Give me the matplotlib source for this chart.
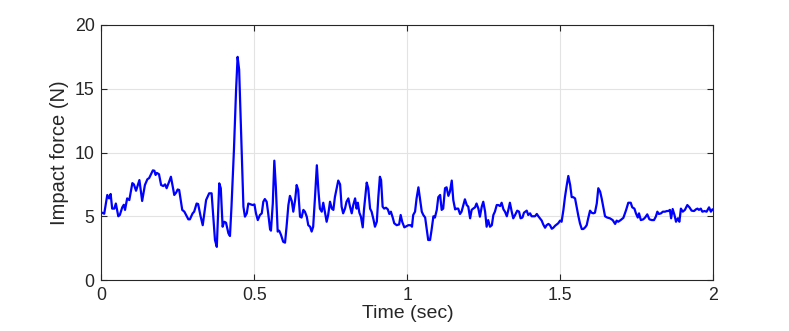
import matplotlib.pyplot as plt

# impact force signal
time_s = [0.000, 0.009, 0.019, 0.025, 0.030, 0.035, 0.042, 0.047, 0.055, 0.060,
          0.068, 0.073, 0.077, 0.084, 0.091, 0.101, 0.106, 0.113, 0.124, 0.133,
          0.142, 0.150, 0.156, 0.162, 0.168, 0.173, 0.177, 0.181, 0.188, 0.195,
          0.202, 0.208, 0.213, 0.221, 0.227, 0.238, 0.244, 0.249, 0.254, 0.264,
          0.271, 0.284, 0.289, 0.298, 0.303, 0.311, 0.316, 0.324, 0.331, 0.342,
          0.352, 0.360, 0.371, 0.377, 0.385, 0.390, 0.396, 0.401, 0.407, 0.415,
          0.420, 0.425, 0.433, 0.440, 0.445, 0.450, 0.458, 0.464, 0.469, 0.475,
          0.480, 0.485, 0.494, 0.500, 0.505, 0.511, 0.518, 0.524, 0.529, 0.534,
          0.540, 0.545, 0.551, 0.554, 0.560, 0.565, 0.570, 0.576, 0.581, 0.587,
          0.594, 0.600, 0.605, 0.611, 0.616, 0.622, 0.627, 0.633, 0.638, 0.643,
          0.649, 0.654, 0.660, 0.665, 0.671, 0.676, 0.682, 0.687, 0.692, 0.698,
          0.704, 0.709, 0.714, 0.720, 0.725, 0.731, 0.736, 0.741, 0.747, 0.753,
          0.758, 0.763, 0.769, 0.774, 0.780, 0.785, 0.790, 0.796, 0.801, 0.807,
          0.812, 0.818, 0.823, 0.829, 0.834, 0.838, 0.843, 0.848, 0.854, 0.858,
          0.864, 0.867, 0.872, 0.878, 0.883, 0.889, 0.894, 0.900, 0.905, 0.910,
          0.914, 0.919, 0.924, 0.930, 0.936, 0.941, 0.946, 0.952, 0.957, 0.965,
          0.973, 0.978, 0.983, 0.990, 0.998, 1.003, 1.011, 1.015, 1.019, 1.025,
          1.030, 1.036, 1.041, 1.047, 1.052, 1.058, 1.063, 1.068, 1.074, 1.079,
          1.085, 1.090, 1.096, 1.101, 1.107, 1.112, 1.117, 1.123, 1.128, 1.134,
          1.139, 1.145, 1.150, 1.156, 1.161, 1.166, 1.172, 1.177, 1.183, 1.188,
          1.194, 1.199, 1.205, 1.210, 1.215, 1.221, 1.226, 1.232, 1.237, 1.243,
          1.248, 1.254, 1.259, 1.264, 1.270, 1.276, 1.281, 1.286, 1.292, 1.297,
          1.303, 1.308, 1.314, 1.319, 1.325, 1.330, 1.335, 1.341, 1.346, 1.352,
          1.359, 1.365, 1.370, 1.376, 1.381, 1.390, 1.395, 1.401, 1.406, 1.417,
          1.423, 1.428, 1.433, 1.439, 1.444, 1.450, 1.455, 1.461, 1.466, 1.472,
          1.477, 1.483, 1.488, 1.493, 1.499, 1.504, 1.510, 1.515, 1.521, 1.526,
          1.532, 1.537, 1.542, 1.548, 1.553, 1.559, 1.564, 1.570, 1.575, 1.581,
          1.586, 1.591, 1.597, 1.602, 1.608, 1.613, 1.619, 1.624, 1.630, 1.635,
          1.640, 1.646, 1.653, 1.662, 1.671, 1.679, 1.684, 1.689, 1.697, 1.706,
          1.715, 1.722, 1.730, 1.735, 1.742, 1.747, 1.753, 1.757, 1.763, 1.771,
          1.777, 1.784, 1.791, 1.799, 1.806, 1.812, 1.817, 1.822, 1.829, 1.835,
          1.842, 1.848, 1.853, 1.858, 1.862, 1.867, 1.873, 1.878, 1.884, 1.889,
          1.894, 1.900, 1.907, 1.915, 1.922, 1.929, 1.937, 1.943, 1.948, 1.953,
          1.959, 1.964, 1.971, 1.978, 1.986, 1.992, 1.997, 2.000]
force_n = [5.30, 5.20, 6.67, 6.40, 6.75, 5.60, 5.60, 6.00, 5.00, 5.10,
           5.70, 5.90, 5.50, 6.40, 6.27, 7.60, 7.50, 7.00, 7.84, 6.20,
           7.45, 7.90, 8.00, 8.30, 8.60, 8.57, 8.24, 8.40, 8.30, 7.45,
           7.37, 7.50, 7.20, 7.70, 8.10, 6.67, 6.85, 7.10, 7.06, 5.50,
           5.36, 4.76, 4.76, 5.23, 5.36, 6.00, 5.96, 5.00, 4.30, 6.27,
           6.80, 6.80, 3.14, 2.60, 7.58, 7.20, 4.18, 4.57, 4.50, 3.66,
           3.45, 5.75, 10.2, 14.9, 17.5, 16.5, 10.2, 5.75, 4.97, 5.23,
           6.00, 5.96, 5.88, 5.93, 5.23, 4.70, 5.10, 5.23, 6.14, 6.35,
           6.14, 5.23, 4.00, 3.87, 6.00, 9.36, 7.30, 3.80, 3.87, 3.53,
           3.00, 2.93, 4.18, 5.88, 6.60, 6.20, 5.36, 6.27, 7.45, 7.06,
           4.97, 4.90, 5.50, 5.36, 4.97, 4.30, 4.18, 3.80, 4.18, 6.50,
           9.00, 7.06, 5.60, 5.36, 6.06, 5.23, 4.57, 5.10, 6.14, 5.60,
           5.50, 6.50, 7.20, 7.80, 7.50, 5.75, 5.23, 5.60, 6.14, 6.40,
           5.80, 5.23, 5.88, 6.40, 5.60, 6.06, 5.28, 4.97, 4.13, 5.50,
           6.93, 7.64, 7.20, 5.60, 5.36, 4.76, 4.18, 4.57, 6.50, 8.10,
           7.84, 5.75, 5.60, 5.67, 5.54, 5.18, 5.36, 4.90, 4.45, 4.30,
           4.36, 5.10, 4.57, 4.13, 4.23, 4.30, 4.30, 4.18, 5.10, 5.36,
           6.40, 7.27, 6.40, 5.36, 5.10, 4.90, 4.05, 3.14, 3.14, 3.92,
           5.00, 4.90, 5.50, 6.50, 6.67, 5.50, 5.60, 7.20, 7.27, 6.60,
           6.93, 7.80, 6.27, 5.54, 5.60, 5.60, 5.18, 5.36, 5.88, 6.33,
           5.88, 5.75, 4.84, 5.50, 5.60, 5.70, 6.00, 5.60, 4.97, 5.75,
           6.14, 5.36, 4.18, 4.70, 4.18, 4.30, 5.10, 5.36, 5.88, 5.88,
           5.80, 6.06, 5.54, 5.36, 5.00, 5.50, 6.06, 5.36, 4.84, 5.10,
           5.44, 5.36, 4.84, 4.90, 5.28, 5.44, 5.10, 5.23, 5.00, 5.00,
           5.18, 5.00, 4.84, 4.66, 4.36, 4.10, 4.30, 4.40, 4.30, 4.02,
           4.10, 4.26, 4.36, 4.45, 4.66, 4.57, 5.50, 6.50, 7.45, 8.16,
           7.45, 6.50, 6.50, 6.40, 5.75, 5.00, 4.45, 4.00, 4.00, 4.13,
           4.30, 4.84, 5.44, 5.28, 5.23, 5.28, 6.00, 7.20, 6.93, 6.40,
           5.75, 5.00, 4.90, 4.84, 4.70, 4.40, 4.66, 4.57, 4.70, 4.88,
           5.50, 6.06, 6.06, 5.70, 5.60, 5.23, 4.90, 5.23, 4.70, 4.76,
           4.90, 5.15, 4.76, 4.70, 4.70, 4.97, 5.36, 5.18, 5.23, 5.36,
           5.36, 5.41, 5.41, 5.50, 4.84, 5.57, 5.10, 4.57, 4.84, 4.57,
           5.60, 5.36, 5.50, 5.88, 5.70, 5.44, 5.41, 5.54, 5.60, 5.50,
           5.60, 5.36, 5.41, 5.36, 5.70, 5.36, 5.54, 5.54]

x_ticks = [0, 0.5, 1, 1.5, 2]
x_ticklabels = ['0', '0.5', '1', '1.5', '2']
y_ticks = [0, 5, 10, 15, 20]

plt.rcParams['font.family'] = ['Liberation Sans', 'DejaVu Sans']

fig = plt.figure(figsize=(7.89, 3.31), dpi=100)
ax = fig.add_axes([0.1286, 0.154, 0.7755, 0.7705])   # axes box like the matlab figure

ax.plot(time_s, force_n, color=(0, 0, 1), lw=1.6)

ax.set_xlim(0, 2)
ax.set_ylim(0, 20)
ax.set_xticks(x_ticks)
ax.set_xticklabels(x_ticklabels)
ax.set_yticks(y_ticks)
ax.grid(True, color='#e3e3e3', lw=0.8)
ax.set_axisbelow(True)
ax.tick_params(direction='in', length=4, width=0.8, colors='#262626',
               labelsize=12.8, pad=5, top=True, right=True)
for s in ax.spines.values():
    s.set_color('#262626')
    s.set_linewidth(0.8)

ax.set_xlabel('Time (sec)', fontsize=14, color='#262626', labelpad=1)
ax.set_ylabel('Impact force (N)', fontsize=14.5, color='#262626', labelpad=4)

plt.savefig('out.png', dpi=100)
